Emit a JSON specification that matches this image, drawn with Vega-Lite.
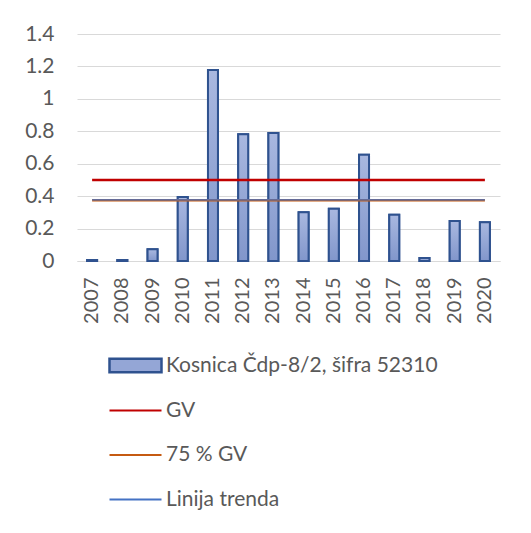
{
  "$schema": "https://vega.github.io/schema/vega-lite/v6.json",
  "width": 423,
  "height": 227,
  "autosize": {"type": "none"},
  "padding": {"left": 77, "top": 34, "right": 31, "bottom": 272},
  "background": "white",
  "config": {
    "view": {"stroke": null},
    "font": "Lato"
  },
  "data": {
    "values": [
      {"year": "2007", "Kosnica": 0.006, "GV": 0.5, "GV75": 0.375, "trend": 0.377},
      {"year": "2008", "Kosnica": 0.006, "GV": 0.5, "GV75": 0.375, "trend": 0.377},
      {"year": "2009", "Kosnica": 0.072, "GV": 0.5, "GV75": 0.375, "trend": 0.377},
      {"year": "2010", "Kosnica": 0.395, "GV": 0.5, "GV75": 0.375, "trend": 0.377},
      {"year": "2011", "Kosnica": 1.178, "GV": 0.5, "GV75": 0.375, "trend": 0.377},
      {"year": "2012", "Kosnica": 0.782, "GV": 0.5, "GV75": 0.375, "trend": 0.377},
      {"year": "2013", "Kosnica": 0.79, "GV": 0.5, "GV75": 0.375, "trend": 0.377},
      {"year": "2014", "Kosnica": 0.3, "GV": 0.5, "GV75": 0.375, "trend": 0.377},
      {"year": "2015", "Kosnica": 0.323, "GV": 0.5, "GV75": 0.375, "trend": 0.377},
      {"year": "2016", "Kosnica": 0.656, "GV": 0.5, "GV75": 0.375, "trend": 0.377},
      {"year": "2017", "Kosnica": 0.286, "GV": 0.5, "GV75": 0.375, "trend": 0.377},
      {"year": "2018", "Kosnica": 0.018, "GV": 0.5, "GV75": 0.375, "trend": 0.377},
      {"year": "2019", "Kosnica": 0.247, "GV": 0.5, "GV75": 0.375, "trend": 0.377},
      {"year": "2020", "Kosnica": 0.239, "GV": 0.5, "GV75": 0.375, "trend": 0.377}
    ]
  },
  "encoding": {
    "x": {
      "field": "year", "type": "nominal", "title": null,
      "scale": {"paddingInner": 0.67, "paddingOuter": 0.335},
      "axis": {
        "domain": true, "domainColor": "#D9D9D9", "domainWidth": 1.2, "ticks": false, "grid": false,
        "labelFontSize": 20, "labelColor": "#595959", "labelPadding": 16, "labelAngle": 270,
        "labelFont": "Lato", "labelOverlap": false
      }
    }
  },
  "layer": [
    {
      "mark": {"type": "bar", "stroke": "#2F528F", "strokeWidth": 2},
      "encoding": {
        "y": {
          "field": "Kosnica", "type": "quantitative", "title": null,
          "scale": {"domain": [0, 1.4], "nice": false},
          "axis": {
            "values": [0, 0.2, 0.4, 0.6, 0.8, 1, 1.2, 1.4], "tickCount": 10, "format": ".1~f",
            "domain": false, "ticks": false, "grid": true, "gridColor": "#D9D9D9", "gridWidth": 1.2,
            "labelFontSize": 21, "labelColor": "#595959", "labelPadding": 23, "labelFont": "Lato",
            "labelOverlap": false
          }
        },
        "fill": {
          "datum": "Kosnica Čdp-8/2, šifra 52310",
          "type": "nominal",
          "scale": {"domain": ["Kosnica Čdp-8/2, šifra 52310"], "range": ["#94A6D6"]},
          "legend": {
            "orient": "none", "legendX": 31, "legendY": 304,
            "direction": "vertical", "title": null, "padding": 0,
            "symbolType": "M-1,-0.26L1,-0.26L1,0.26L-1,0.26Z",
            "symbolSize": 2704, "symbolStrokeColor": "#2F528F", "symbolStrokeWidth": 2.5, "symbolOpacity": 1,
            "labelFontSize": 21, "labelFont": "Lato", "labelColor": "#595959",
            "labelOffset": 3, "labelLimit": 0
          }
        }
      }
    },
    {
      "mark": {
        "type": "bar", "stroke": "#2F528F", "strokeWidth": 2,
        "fill": {"x1": 0, "y1": 0, "x2": 0, "y2": 1, "gradient": "linear",
          "stops": [{"offset": 0, "color": "#A9B8E0"}, {"offset": 1, "color": "#8196CB"}]}
      },
      "encoding": {
        "y": {"field": "Kosnica", "type": "quantitative", "title": null}
      }
    },
    {
      "mark": {"type": "line", "strokeWidth": 2.5},
      "encoding": {
        "y": {"field": "GV", "type": "quantitative", "title": null},
        "stroke": {
          "datum": "GV", "type": "nominal",
          "scale": {"domain": ["GV", "75 % GV", "Linija trenda"], "range": ["#C00000", "#C55A11", "#4472C4"]},
          "legend": {
            "orient": "none", "legendX": 31, "legendY": 349,
            "direction": "vertical", "title": null, "padding": 0,
            "symbolType": "stroke", "symbolSize": 2704, "symbolStrokeWidth": 2.2, "symbolOpacity": 1,
            "labelFontSize": 21, "labelFont": "Lato", "labelColor": "#595959",
            "labelOffset": 3, "labelLimit": 0, "rowPadding": 6.5
          }
        }
      }
    },
    {
      "mark": {"type": "line", "strokeWidth": 2.5},
      "encoding": {
        "y": {"field": "GV75", "type": "quantitative", "title": null},
        "stroke": {"datum": "75 % GV", "type": "nominal"}
      }
    },
    {
      "mark": {"type": "line", "strokeWidth": 1.3},
      "encoding": {
        "y": {"field": "trend", "type": "quantitative", "title": null},
        "stroke": {"datum": "Linija trenda", "type": "nominal"}
      }
    }
  ]
}
